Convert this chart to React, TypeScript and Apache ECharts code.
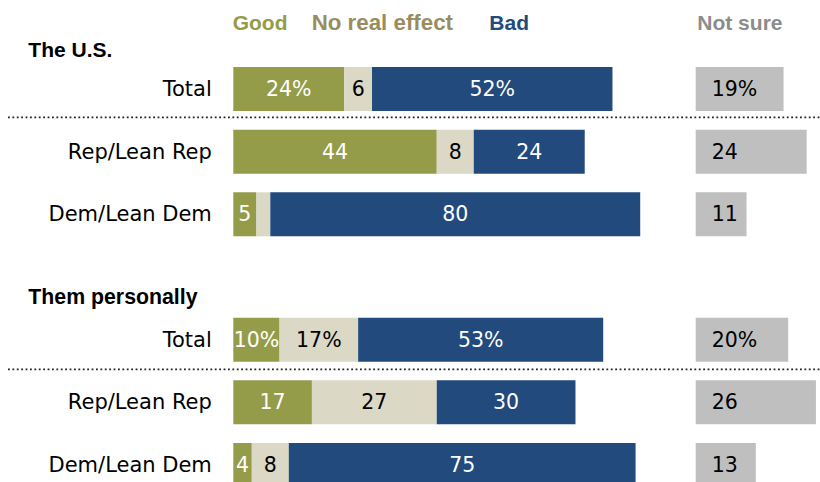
import React, { useEffect, useRef } from "react";
import * as echarts from "echarts";

// Row labels; the empty slot separates the two sections.
const rowLabels = ["Total", "Rep/Lean Rep", "Dem/Lean Dem", "", "Total", "Rep/Lean Rep", "Dem/Lean Dem"];
// Rows whose values are shown with a percent sign
const percentRows = [true, false, false, false, true, false, false];

const goodValues = [24, 44, 5, null, 10, 17, 4];
const noEffectValues = [6, 8, 3, null, 17, 27, 8];
const badValues = [52, 24, 80, null, 53, 30, 75];
const notSureValues = [19, 24, 11, null, 20, 26, 13];

const headerLabels = ["Good", "No real effect", "Bad", "Not sure"];
const sectionTitles = ["The U.S.", "Them personally"];

const COLORS = {
  good: "#949c4a",
  noEffect: "#dbd8c6",
  bad: "#224a7c",
  notSure: "#bfbfbf",
};
const HEADER_COLORS = ["#949c4a", "#9a8c5e", "#224a7c", "#8c8c8c"];

const BODY_FONT = "'DejaVu Sans', sans-serif";
const BOLD_FONT = "'Liberation Sans', Arial, sans-serif";

const PX_PER_UNIT = 4.624;
const GRID_TOP = 57.67;
const SLOT = 62.67;
const MAIN_LEFT = 233.3;
const SIDE_LEFT = 695.7;
const MAIN_MAX = 100;
const SIDE_MAX = 30;

// Narrow single-digit segments drop the percent sign.
function fmt(rowIdx: number, v: number) {
  return percentRows[rowIdx] && v >= 10 ? `${v}%` : `${v}`;
}

export default function App() {
  const ref = useRef<HTMLDivElement>(null);

  useEffect(() => {
    if (!ref.current) return;
    const chart = echarts.init(ref.current, undefined, { renderer: "svg" });

    const gridHeight = SLOT * rowLabels.length;

    const label = (color: string, minShown = 0) => ({
      show: true,
      position: "inside" as const,
      color,
      fontFamily: BODY_FONT,
      fontSize: 20.5,
      formatter: (p: any) =>
        p.value == null || p.value < minShown ? "" : fmt(p.dataIndex, p.value),
    });

    const dotted = (y: number) => ({
      type: "line",
      shape: { x1: 8, y1: y, x2: 820, y2: y },
      style: { stroke: "#222", lineWidth: 1.8, lineDash: [1.8, 2.6] },
      silent: true,
    });

    const headerX = [232.7, 311.7, 489.3, 697.3];
    const headerSize = [21, 22.3, 21, 21];

    chart.setOption({
      animation: false,
      grid: [
        { left: MAIN_LEFT, top: GRID_TOP, width: PX_PER_UNIT * MAIN_MAX, height: gridHeight },
        { left: SIDE_LEFT, top: GRID_TOP, width: PX_PER_UNIT * SIDE_MAX, height: gridHeight },
      ],
      xAxis: [
        { gridIndex: 0, type: "value", min: 0, max: MAIN_MAX, show: false },
        { gridIndex: 1, type: "value", min: 0, max: SIDE_MAX, show: false },
      ],
      yAxis: [
        {
          gridIndex: 0,
          type: "category",
          inverse: true,
          data: rowLabels,
          axisLine: { show: false },
          axisTick: { show: false },
          splitLine: { show: false },
          axisLabel: {
            margin: 21.5,
            color: "#000",
            fontFamily: BODY_FONT,
            fontSize: 21,
          },
        },
        {
          gridIndex: 1,
          type: "category",
          inverse: true,
          data: rowLabels,
          show: false,
        },
      ],
      series: [
        {
          name: "Good",
          type: "bar",
          stack: "main",
          barWidth: 44,
          data: goodValues,
          itemStyle: { color: COLORS.good },
          label: label("#fff"),
        },
        {
          name: "No real effect",
          type: "bar",
          stack: "main",
          barWidth: 44,
          data: noEffectValues,
          itemStyle: { color: COLORS.noEffect },
          label: label("#000", 4),
        },
        {
          name: "Bad",
          type: "bar",
          stack: "main",
          barWidth: 44,
          data: badValues,
          itemStyle: { color: COLORS.bad },
          label: label("#fff"),
        },
        {
          name: "Not sure",
          type: "bar",
          xAxisIndex: 1,
          yAxisIndex: 1,
          barWidth: 44,
          data: notSureValues,
          itemStyle: { color: COLORS.notSure },
          label: {
            ...label("#000"),
            position: "insideLeft",
            distance: 16,
          },
        },
      ],
      graphic: [
        ...headerLabels.map((t, i) => ({
          type: "text",
          x: headerX[i],
          y: 22.5,
          style: {
            text: t,
            fill: HEADER_COLORS[i],
            font: `bold ${headerSize[i]}px ${BOLD_FONT}`,
            textVerticalAlign: "middle",
          },
        })),
        {
          type: "text",
          x: 28.3,
          y: 49.5,
          style: {
            text: sectionTitles[0],
            fill: "#000",
            font: `bold 21px ${BOLD_FONT}`,
            textVerticalAlign: "middle",
          },
        },
        {
          type: "text",
          x: 28.3,
          y: 296.5,
          style: {
            text: sectionTitles[1],
            fill: "#000",
            font: `bold 21.3px ${BOLD_FONT}`,
            textVerticalAlign: "middle",
          },
        },
        dotted(117.3),
        dotted(369.3),
      ],
    });

    return () => chart.dispose();
  }, []);

  return (
    <div
      style={{
        position: "fixed",
        left: 0,
        top: 0,
        width: 820,
        height: 482,
        overflow: "hidden",
        background: "#fff",
      }}
    >
      <div ref={ref} style={{ width: 860, height: 520 }} />
    </div>
  );
}
